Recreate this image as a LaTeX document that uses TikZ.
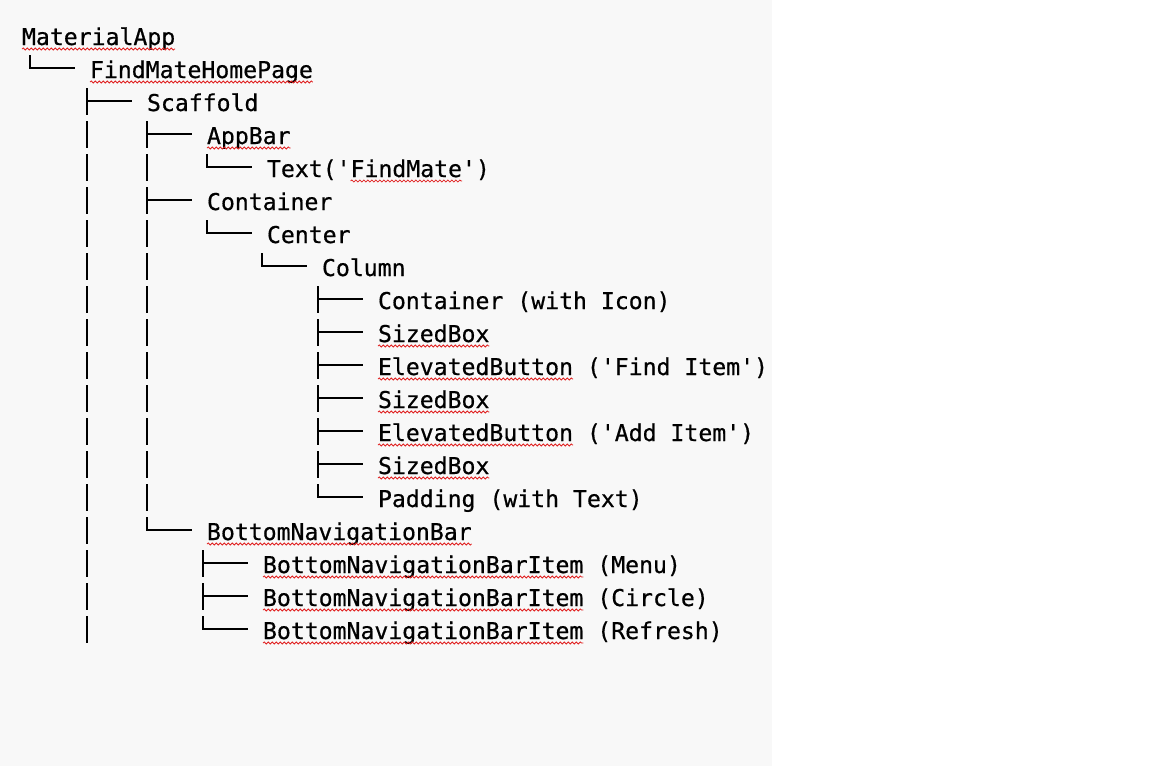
\documentclass[tikz,border=0pt]{standalone}
\usepackage{fontspec}
\newfontfamily\codefont[FakeBold=0.6]{DejaVu Sans Mono}
\usetikzlibrary{decorations.pathmorphing}
\definecolor{bgcol}{HTML}{F8F8F8}
\definecolor{spellred}{HTML}{E02020}
\tikzset{
  txt/.style={anchor=base west, inner sep=0pt, outer sep=0pt, font=\codefont\fontsize{23.14}{28}\selectfont, text=black},
  treeline/.style={line width=1.9pt, black},
  wavy/.style={spellred, line width=0.8pt, decorate, decoration={snake, segment length=4pt, amplitude=1pt}}
}
\newcommand\TrV[2]{\draw[treeline] (#1,#2-23) -- (#1,#2+4);}
\newcommand\TrT[2]{\draw[treeline] (#1,#2-23) -- (#1,#2+4); \draw[treeline] (#1,#2-10) -- (#1+45,#2-10);}
\newcommand\TrL[2]{\draw[treeline, line join=miter] (#1,#2-23) -- (#1,#2-10) -- (#1+45,#2-10);}
\newcommand\Wv[3]{\draw[wavy] (#1,#2+4) -- (#1+#3*13.93,#2+4);}
\begin{document}
\begin{tikzpicture}[x=1pt,y=-1pt]
\useasboundingbox (0,0) rectangle (1152,766);
\fill[bgcol] (0,0) rectangle (772,766);
\fill[white] (772,0) rectangle (1152,766);
% text lines (baseline = 45 + 33 i)
\node[txt] (l0) at (22,45) {MaterialApp};
\node[txt] (l1) at (90,78) {FindMateHomePage};
\node[txt] (l2) at (147,111) {Scaffold};
\node[txt] (l3) at (207,144) {AppBar};
\node[txt] (l4) at (267,177) {Text('FindMate')};
\node[txt] (l5) at (207,210) {Container};
\node[txt] (l6) at (267,243) {Center};
\node[txt] (l7) at (322,276) {Column};
\node[txt] (l8) at (378,309) {Container (with Icon)};
\node[txt] (l9) at (378,342) {SizedBox};
\node[txt] (l10) at (378,375) {ElevatedButton ('Find Item')};
\node[txt] (l11) at (378,408) {SizedBox};
\node[txt] (l12) at (378,441) {ElevatedButton ('Add Item')};
\node[txt] (l13) at (378,474) {SizedBox};
\node[txt] (l14) at (378,507) {Padding (with Text)};
\node[txt] (l15) at (207,540) {BottomNavigationBar};
\node[txt] (l16) at (263,573) {BottomNavigationBarItem (Menu)};
\node[txt] (l17) at (263,606) {BottomNavigationBarItem (Circle)};
\node[txt] (l18) at (263,639) {BottomNavigationBarItem (Refresh)};
% tree glyphs
\TrL{30}{78}
\TrT{87}{111}
\TrV{87}{144} \TrT{147}{144}
\TrV{87}{177} \TrV{147}{177} \TrL{207}{177}
\TrV{87}{210} \TrT{147}{210}
\TrV{87}{243} \TrV{147}{243} \TrL{207}{243}
\TrV{87}{276} \TrV{147}{276} \TrL{262}{276}
\foreach \b in {309,342,375,408,441,474}{\TrV{87}{\b} \TrV{147}{\b} \TrT{318}{\b}}
\TrV{87}{507} \TrV{147}{507} \TrL{318}{507}
\TrV{87}{540} \TrL{147}{540}
\TrV{87}{573} \TrT{203}{573}
\TrV{87}{606} \TrT{203}{606}
\TrV{87}{639} \TrL{203}{639}
% spell-check underlines
\Wv{22}{45}{11}
\Wv{90}{78}{16}
\Wv{207}{144}{6}
\Wv{350.6}{177}{8}
\Wv{378}{342}{8}
\Wv{378}{375}{14}
\Wv{378}{408}{8}
\Wv{378}{441}{14}
\Wv{378}{474}{8}
\Wv{207}{540}{19}
\Wv{263}{573}{23}
\Wv{263}{606}{23}
\Wv{263}{639}{23}
\end{tikzpicture}
\end{document}
